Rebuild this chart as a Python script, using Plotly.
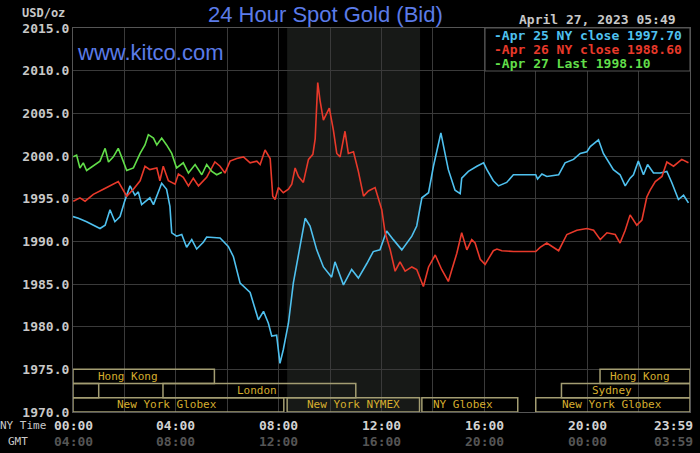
import plotly.graph_objects as go

# NY time in hours, bid prices
apr25_hours = [0.00, 0.21, 0.53, 0.79, 1.05, 1.25, 1.44, 1.63, 1.83, 2.02, 2.22, 2.41, 2.54, 2.67, 2.99,
               3.13, 3.45, 3.64, 3.77, 3.84, 4.03, 4.23, 4.42, 4.62, 4.81, 5.07, 5.20, 5.72, 6.04, 6.24,
               6.50, 6.89, 7.02, 7.21, 7.41, 7.60, 7.73, 7.92, 8.05, 8.18, 8.38, 8.57, 8.83, 9.03, 9.22,
               9.48, 9.74, 10.06, 10.19, 10.52, 10.84, 11.10, 11.43, 11.68, 11.94, 12.20, 12.46, 12.79,
               13.18, 13.37, 13.57, 13.83, 14.02, 14.31, 14.47, 14.60, 14.86, 15.06, 15.12, 15.38, 15.71,
               15.97, 16.10, 16.35, 16.55, 16.87, 17.13, 18.00, 18.07, 18.24, 18.43, 18.89, 19.14, 19.47,
               19.73, 19.99, 20.12, 20.44, 20.63, 21.02, 21.28, 21.48, 21.67, 21.80, 21.99, 22.19, 22.35,
               22.58, 22.84, 23.10, 23.29, 23.55, 23.75, 23.94]
apr25_bid = [1992.9, 1992.7, 1992.3, 1991.9, 1991.5, 1991.9, 1993.7, 1992.3, 1992.9, 1994.8, 1996.5, 1995.4,
             1995.8, 1994.3, 1995.1, 1994.3, 1996.8, 1996.1, 1994.1, 1991.0, 1990.6, 1990.8, 1989.3, 1990.2,
             1989.1, 1989.9, 1990.5, 1990.4, 1989.4, 1988.2, 1985.1, 1984.0, 1982.8, 1980.8, 1981.8, 1980.4,
             1978.9, 1979.0, 1975.7, 1977.3, 1980.4, 1985.1, 1989.4, 1992.7, 1991.8, 1989.0, 1987.0, 1985.8,
             1987.6, 1984.9, 1986.7, 1985.7, 1987.4, 1988.8, 1989.0, 1991.2, 1990.2, 1989.0, 1990.6, 1991.8,
             1995.1, 1995.7, 1998.8, 2002.7, 2000.3, 1998.4, 1996.0, 1995.6, 1997.4, 1998.2, 1998.8, 1999.2,
             1998.4, 1997.1, 1996.5, 1996.9, 1997.8, 1997.8, 1997.3, 1997.9, 1997.6, 1997.8, 1999.2, 1999.6,
             2000.3, 2000.5, 2001.1, 2001.9, 2000.3, 1998.4, 1997.8, 1996.5, 1997.4, 1997.8, 1999.4, 1997.8,
             1999.0, 1998.0, 1998.0, 1998.2, 1996.9, 1994.9, 1995.4, 1994.5]

apr26_hours = [0.01, 0.27, 0.47, 0.79, 1.18, 1.44, 1.76, 2.09, 2.35, 2.61, 2.80, 2.99, 3.26, 3.38, 3.51,
               3.71, 3.97, 4.10, 4.29, 4.49, 4.68, 4.88, 5.20, 5.52, 5.72, 5.91, 6.11, 6.37, 6.63, 6.89,
               7.15, 7.28, 7.47, 7.67, 7.77, 7.86, 7.99, 8.18, 8.38, 8.51, 8.64, 8.77, 8.96, 9.16, 9.33,
               9.42, 9.52, 9.61, 9.74, 9.97, 10.13, 10.26, 10.39, 10.58, 10.71, 10.91, 11.10, 11.30, 11.49,
               11.75, 11.88, 12.01, 12.14, 12.34, 12.53, 12.72, 12.92, 13.18, 13.37, 13.63, 13.83, 14.09,
               14.34, 14.60, 14.73, 14.93, 15.12, 15.32, 15.51, 15.64, 15.84, 16.03, 16.35, 16.49, 16.68,
               17.13, 18.00, 18.17, 18.43, 18.69, 18.89, 19.21, 19.60, 19.99, 20.25, 20.51, 20.77, 21.09,
               21.28, 21.48, 21.67, 21.93, 22.13, 22.32, 22.45, 22.65, 22.91, 23.10, 23.36, 23.68, 23.94]
apr26_bid = [1994.7, 1995.1, 1994.7, 1995.5, 1996.1, 1996.5, 1997.0, 1995.3, 1996.1, 1997.1, 1998.8, 1998.4,
             1998.6, 1997.1, 1998.8, 1997.1, 1996.7, 1997.9, 1997.5, 1996.5, 1997.4, 1996.5, 1997.5, 1999.3,
             1998.8, 1998.0, 1999.4, 1999.7, 1999.9, 1999.2, 1999.4, 1999.0, 2000.7, 1999.7, 1995.3, 1994.9,
             1996.3, 1995.7, 1996.1, 1996.7, 1998.6, 1997.6, 1996.9, 1999.6, 2000.2, 2002.0, 2008.6, 2006.5,
             2004.2, 2005.6, 2003.0, 2000.3, 1999.9, 2002.9, 2000.3, 2000.5, 1998.2, 1995.3, 1995.9, 1996.3,
             1995.1, 1993.7, 1991.0, 1989.0, 1986.5, 1987.6, 1986.5, 1987.0, 1986.7, 1984.7, 1987.0, 1988.4,
             1986.7, 1985.3, 1986.6, 1988.6, 1991.0, 1989.0, 1990.2, 1989.8, 1987.9, 1987.3, 1988.9, 1989.1,
             1988.9, 1988.8, 1988.8, 1989.3, 1989.8, 1989.3, 1988.9, 1990.8, 1991.3, 1991.5, 1991.3, 1990.2,
             1991.0, 1990.8, 1989.8, 1991.3, 1993.1, 1991.9, 1992.5, 1995.2, 1996.0, 1997.0, 1997.6, 1999.3,
             1998.8, 1999.6, 1999.2]

apr27_hours = [0.01, 0.14, 0.27, 0.40, 0.53, 0.79, 1.05, 1.25, 1.38, 1.57, 1.76, 1.89, 2.09, 2.35, 2.61,
               2.80, 2.93, 3.13, 3.26, 3.45, 3.64, 3.84, 4.03, 4.29, 4.49, 4.75, 5.01, 5.20, 5.40, 5.59, 5.79]
apr27_bid = [1999.9, 2000.1, 1998.6, 1999.2, 1998.3, 1998.9, 1999.4, 2000.9, 1999.3, 1999.9, 2000.9, 1999.9,
             1998.3, 1998.6, 2000.3, 2001.3, 2002.5, 2002.1, 2001.3, 2002.1, 2001.3, 2000.3, 1998.6, 1999.2,
             1998.0, 1999.0, 1997.8, 1999.0, 1998.2, 1997.8, 1998.1]

legend_labels = ["Apr 25 NY close 1997.70", "Apr 26 NY close 1988.60", "Apr 27 Last 1998.10"]

tick_hours = [0, 4, 8, 12, 16, 20, 24]
ny_labels = ["00:00", "04:00", "08:00", "12:00", "16:00", "20:00", "23:59"]
gmt_labels = ["04:00", "08:00", "12:00", "16:00", "20:00", "00:00", "03:59"]

# trading sessions (NY hours), row 0 = top
session_names = ["Hong Kong", "Hong Kong", "", "London", "Sydney",
                 "New York Globex", "New York NYMEX", "NY Globex", "New York Globex"]
session_start = [0, 20.5, 0, 3.5, 19, 0, 8.33, 13.57, 18]
session_end = [5.5, 24, 1, 11, 24, 8.2, 13.48, 17.3, 24]
session_row = [0, 0, 1, 1, 1, 2, 2, 2, 2]
label_at = [2.14, 22.06, 0.5, 7.16, 20.97, 3.66, 10.9, 15.17, 20.97]
nymex_pit = (8.33, 13.5)

MONO = "DejaVu Sans Mono"
colors = ["#4fc1ef", "#e8392a", "#62de4a"]

fig = go.Figure()
for hrs, vals, c in zip([apr25_hours, apr26_hours, apr27_hours],
                        [apr25_bid, apr26_bid, apr27_bid], colors):
    fig.add_trace(go.Scatter(x=hrs, y=vals, mode="lines", line=dict(color=c, width=1.6),
                             hoverinfo="skip", showlegend=False))

shapes = [dict(type="rect", xref="x", yref="paper", x0=nymex_pit[0], x1=nymex_pit[1], y0=0, y1=1,
               fillcolor="#171917", line=dict(width=0), layer="below")]

row_edges = [1975.0, 1973.33, 1971.67, 1970.0]
annotations = []


def note(x, y, text, font, xanchor="center", xref="paper", yref="paper", xshift=0):
    annotations.append(dict(x=x, y=y, xref=xref, yref=yref, text=text, showarrow=False,
                            xanchor=xanchor, yanchor="middle", xshift=xshift, font=font))


for name, s, e, r, la in zip(session_names, session_start, session_end, session_row, label_at):
    shapes.append(dict(type="rect", xref="x", yref="y", x0=s, x1=e, y0=row_edges[r + 1], y1=row_edges[r],
                       line=dict(color="#a39d72", width=1.5), layer="above"))
    if name:
        note(la, (row_edges[r] + row_edges[r + 1]) / 2, name,
             dict(family=MONO, size=11, color="#d6ae2e"), xref="x", yref="y")

# legend box
shapes.append(dict(type="rect", xref="paper", yref="paper", x0=0.6677, x1=1.0, y0=0.888, y1=1.0,
                   fillcolor="#000000", line=dict(color="#555555", width=1.2), layer="above"))
for i, (lab, c) in enumerate(zip(legend_labels, colors)):
    note(0.679, 0.980 - i * 0.0362, "-" + lab, dict(family=MONO, size=13, color=c, weight="bold"),
         xanchor="left")

# time axis labels
for h, ny, gmt in zip(tick_hours, ny_labels, gmt_labels):
    anchor = "right" if h == 24 else "center"
    shift = 5 if h == 24 else 0
    note(h, -0.034, ny, dict(family=MONO, size=13, color="#d2d2d2", weight="bold"),
         xanchor=anchor, xref="x", xshift=shift)
    note(h, -0.076, gmt, dict(family=MONO, size=13, color="#555555", weight="bold"),
         xanchor=anchor, xref="x", xshift=shift)
note(-0.04, -0.034, "NY Time", dict(family=MONO, size=11, color="#c8c8c8"), xanchor="right")
note(-0.069, -0.076, "GMT", dict(family=MONO, size=11, color="#c8c8c8"), xanchor="right")

# header texts
note(0.41, 1.034, "24 Hour Spot Gold (Bid)", dict(family="Liberation Sans", size=22, color="#5b7be8"))
note(0.004, 0.9375, "www.kitco.com", dict(family="Liberation Sans", size=22, color="#5b7be8"), xanchor="left")
note(-0.0097, 1.039, "USD/oz", dict(family=MONO, size=12, color="#c8c8c8", weight="bold"), xanchor="right")
note(0.9805, 1.021, "April 27, 2023 05:49", dict(family=MONO, size=13, color="#c8c8c8", weight="bold"),
     xanchor="right")

fig.update_layout(
    width=700, height=453,
    margin=dict(l=73, r=10, t=28, b=41, autoexpand=False),
    paper_bgcolor="#000000", plot_bgcolor="#000000",
    shapes=shapes, annotations=annotations,
    xaxis=dict(range=[0, 24], tickvals=list(range(0, 25, 2)), showticklabels=False,
               showgrid=True, gridcolor="#3a3a3a", gridwidth=1.2, zeroline=False,
               showline=True, mirror=True, linecolor="#555555", linewidth=1.2),
    yaxis=dict(range=[1970, 2015], dtick=5, tickformat=".1f", showgrid=True, gridcolor="#3a3a3a",
               gridwidth=1.2, zeroline=False, showline=True, mirror=True, linecolor="#555555", linewidth=1.2,
               tickfont=dict(family=MONO, size=13, color="#c8c8c8", weight="bold")),
)

# the page's default body margin would shift the figure by 8px
fig.write_html("out.html", config={"displayModeBar": False},
               post_script="document.body.style.margin='0';")
